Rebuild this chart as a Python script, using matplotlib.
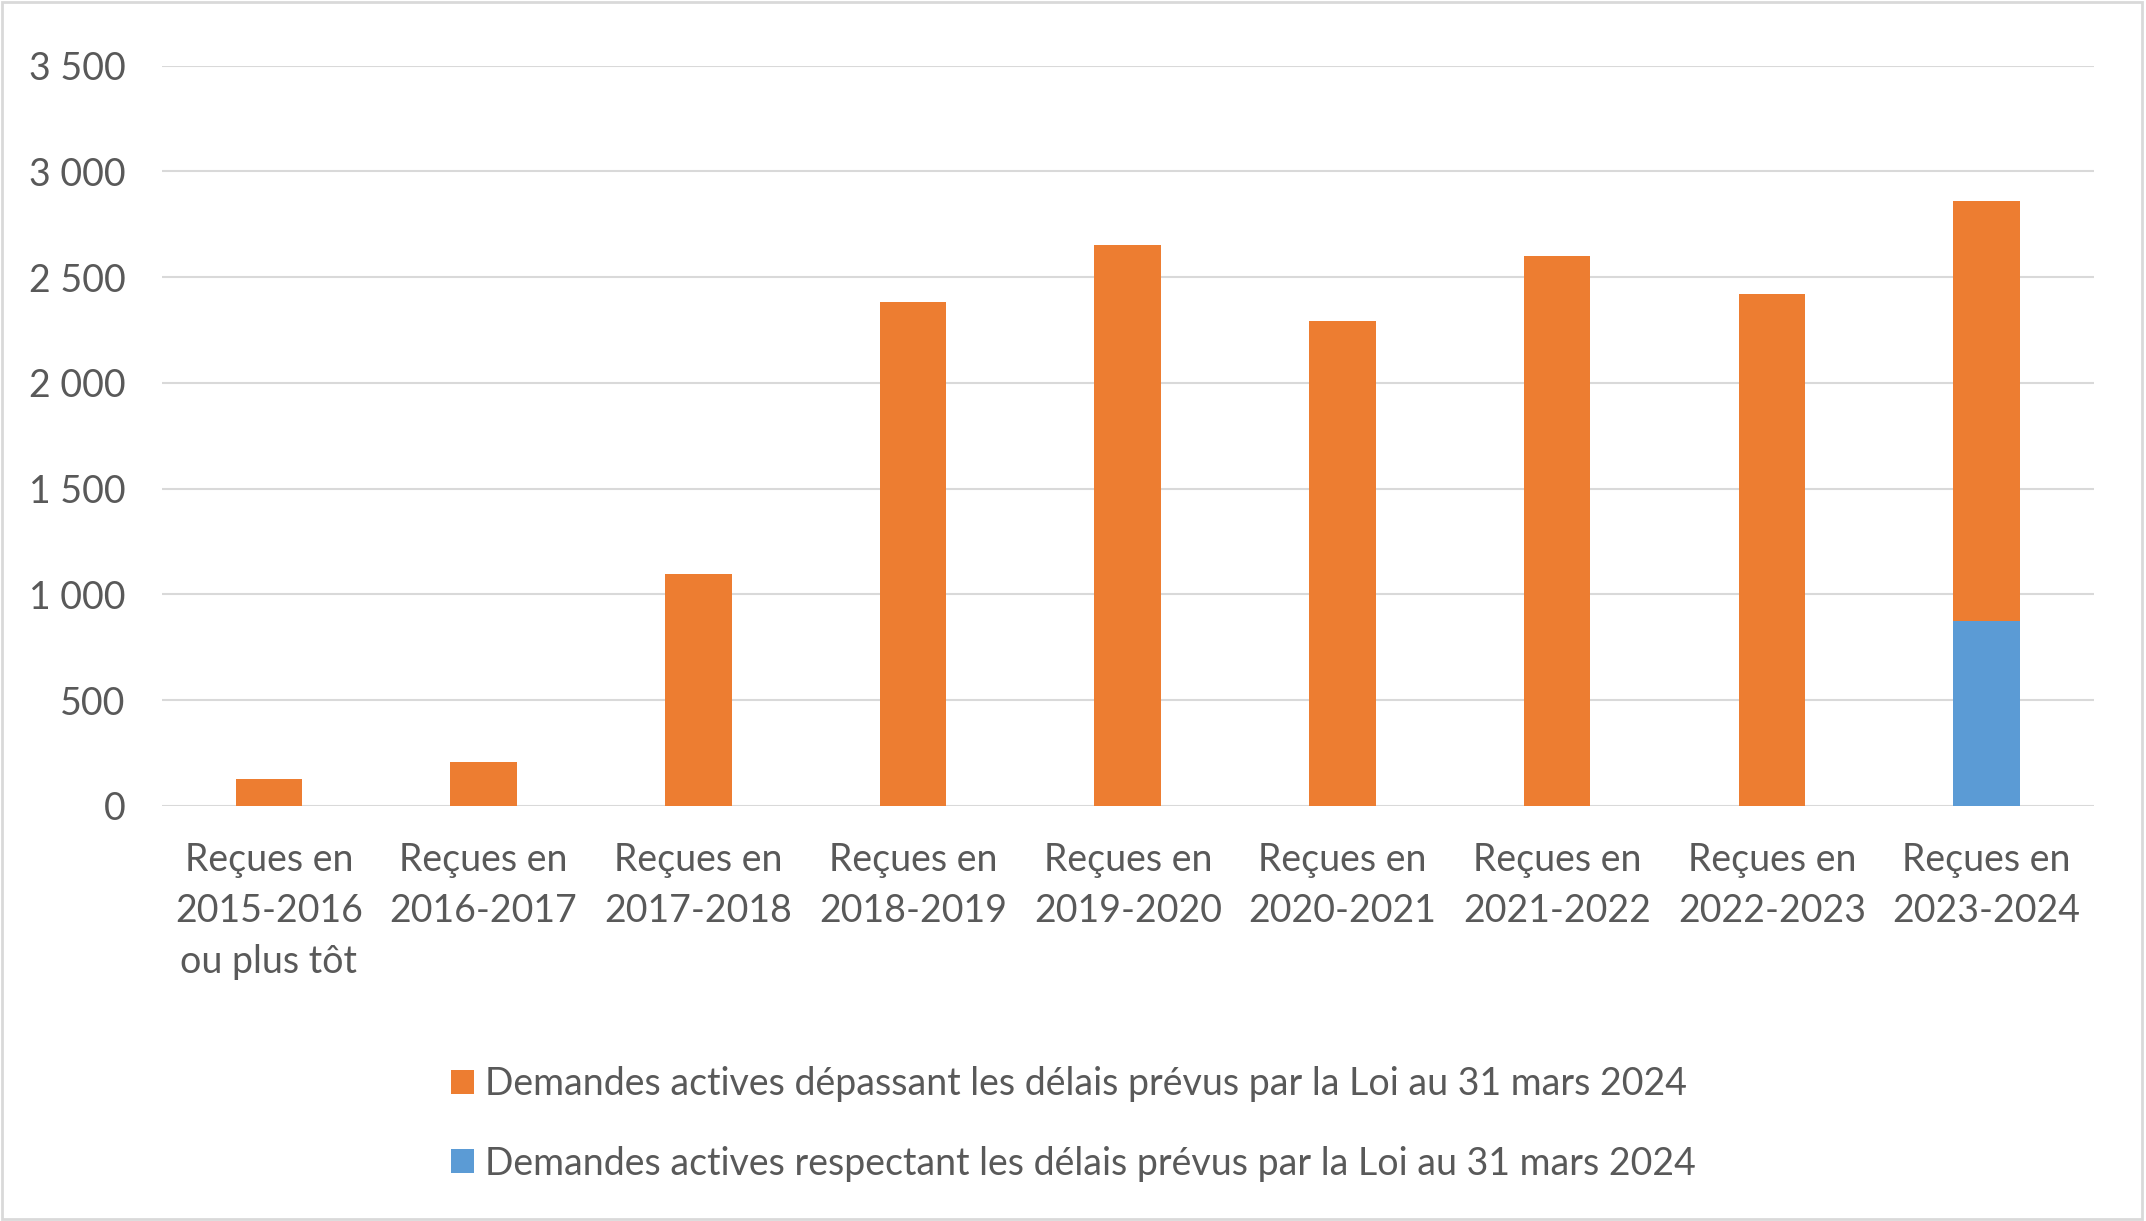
import matplotlib.pyplot as plt
import numpy as np
from matplotlib.patches import Rectangle

# données
categories = ['Reçues en\n2015-2016\nou plus tôt', 'Reçues en\n2016-2017', 'Reçues en\n2017-2018',
              'Reçues en\n2018-2019', 'Reçues en\n2019-2020', 'Reçues en\n2020-2021',
              'Reçues en\n2021-2022', 'Reçues en\n2022-2023', 'Reçues en\n2023-2024']
respectant = [0, 0, 0, 0, 0, 0, 0, 0, 873]
depassant = [128, 208, 1095, 2385, 2650, 2295, 2600, 2420, 1987]
lab_dep = 'Demandes actives dépassant les délais prévus par la Loi au 31 mars 2024'
lab_res = 'Demandes actives respectant les délais prévus par la Loi au 31 mars 2024'
yticks = [0, 500, 1000, 1500, 2000, 2500, 3000, 3500]

orange = '#ED7D31'
bleu = '#5B9BD5'
gris = '#595959'
grille = '#D9D9D9'

plt.rcParams['font.family'] = ['Lato', 'DejaVu Sans']

W, H = 2146, 1221
fig = plt.figure(figsize=(W/100, H/100), dpi=100)
ax = fig.add_axes([161.5/W, 1-806/H, (2094-161.5)/W, (806-65.7)/H])

x = np.arange(len(categories))
b_res = ax.bar(x, respectant, width=0.31, color=bleu, label=lab_res, zorder=3)
b_dep = ax.bar(x, depassant, width=0.31, bottom=respectant, color=orange, label=lab_dep, zorder=3)

ax.set_xlim(-0.5, len(categories)-0.5)
ax.set_ylim(0, 3500)
ax.set_yticks(yticks)
ax.set_yticklabels(['{:,}'.format(v).replace(',', ' ') for v in yticks])
ax.set_xticks(x)
ax.set_xticklabels(categories, linespacing=1.52)
ax.tick_params(axis='both', length=0, labelsize=27, labelcolor=gris)
ax.tick_params(axis='y', pad=26)
ax.tick_params(axis='x', pad=26)
ax.grid(axis='y', color=grille, linewidth=1.5, zorder=0)
for s in ax.spines.values():
    s.set_visible(False)

fig.legend(handles=[b_dep, b_res], loc='upper left', bbox_to_anchor=(451/W, 1-1066/H),
           frameon=False, fontsize=27, labelcolor=gris, handlelength=0.6, handleheight=0.6,
           handletextpad=0.3, labelspacing=1.16, borderpad=0, borderaxespad=0)

# bordure du graphique
fig.patches.append(Rectangle((0.001, 0.002), 0.997, 0.996, transform=fig.transFigure,
                             fill=False, edgecolor=grille, linewidth=2))

fig.savefig('out.png', dpi=100)
